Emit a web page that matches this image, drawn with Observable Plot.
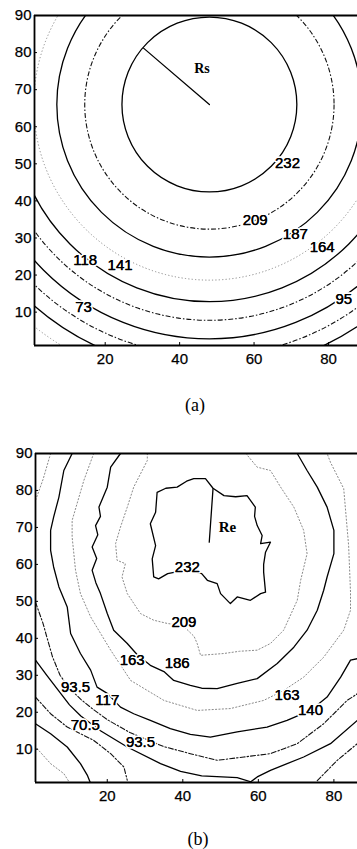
<!DOCTYPE html>
<html><head><meta charset="utf-8">
<script src="https://cdn.jsdelivr.net/npm/d3@7"></script>
<script src="https://cdn.jsdelivr.net/npm/@observablehq/plot@0.6"></script>
<style>
html,body{margin:0;padding:0;background:#fff;overflow:hidden}
#root{position:relative;width:357px;height:849px;background:#fff}
.panel{position:absolute;left:0}
.cap{position:absolute;font-family:"Liberation Serif","Times New Roman",serif;font-size:18px;color:#000;transform:translate(-50%,-50%);white-space:nowrap}
g[aria-label="x-axis"] text,g[aria-label="y-axis"] text,g[aria-label="x-axis tick label"] text,g[aria-label="y-axis tick label"] text{font-size:15px;font-family:"Liberation Sans",Arial,sans-serif;fill:#000;stroke:#000;stroke-width:0.25px}
</style></head><body><div id="root"></div>
<script>
// ---------- shared axis data ----------
const xTicks = [20, 40, 60, 80];
const yTicks = [10, 20, 30, 40, 50, 60, 70, 80, 90];

// ---------- panel (a): concentric contour circles ----------
const aCenterX = 48, aCenterY = 66;
const aLevels = [232, 209, 187, 164, 141, 118, 95, 73, 50, 27];
const aRadii  = [23.5, 33.5, 41, 47.2, 53, 58, 63, 67.5, 71.7, 76];
const aLabelText = ["232", "209", "187", "164", "118", "141", "73", "95"];
const aLabelX    = [69.0, 60.3, 71.1, 78.3, 14.6, 24.0, 14.2, 84.1];
const aLabelY    = [50.3, 34.8, 31.0, 27.6, 24.0, 22.7, 11.2, 13.4];
const rsLineX = [48, 30.3];
const rsLineY = [66, 81.2];
const rsLabel = {text: "Rs", x: 46.0, y: 75.6};

// ---------- panel (b): measured contour polylines ----------
const b232 = [[33.2,79.5],[35.5,80.6],[38.5,80.9],[41,82.5],[42.9,83.2],[46.0,83.2],[48.0,80.6],[50.9,78.6],[54,78.3],[57.0,78.6],[59.2,75.5],[59.0,73],[59.7,70.5],[61.0,67.8],[60.6,65.6],[63.2,66.0],[61.9,63.3],[61.4,60],[61.4,57.9],[61.9,52.5],[60.6,52.1],[57.9,50.3],[54.4,51.2],[52.6,49.4],[50.0,52.1],[49.1,54.8],[46.5,55.7],[45,57.5],[41,58.5],[36,57.5],[33.6,56.1],[32.3,56.6],[31.9,61.5],[32.8,65.1],[31.4,71.0],[32.8,74.1],[33.2,79.5]];
const b209 = [[30.6,90],[30.6,88.1],[28.8,84.5],[27.0,80.9],[25.3,75.5],[23.5,70.1],[22.2,65.6],[22.6,61.1],[24.8,60.2],[23.9,56.6],[25.3,52.1],[28.8,46.7],[32.3,44.9],[36,44],[40,43.5],[43,40.5],[43.8,38.6],[44.7,35.4],[50.9,35.9],[55,36.5],[59.7,36.8],[63.2,38.6],[66.7,42.2],[70.3,50.3],[71.2,55.7],[72.9,62.9],[72.0,69.2],[69.4,75.5],[65.9,80.9],[63.2,85.4],[59.7,86.3],[57.1,89.5],[56.8,90]];
const b186 = [[23.5,90],[20.9,86.3],[20.0,80.9],[17.8,75.5],[18.2,73],[16.9,70.5],[17.5,68],[16.0,64.7],[17.2,61.6],[16.0,58.4],[17,55],[18.2,52.1],[20.0,46.7],[21.7,42.2],[25.3,38.6],[28,35.5],[31.4,32.7],[35,31],[37.6,28.6],[42.0,27.3],[45,26.5],[49.1,26.4],[54.4,27.8],[59.7,29.1],[65.0,33.2],[69.4,37.6],[72.9,42.2],[75.6,47.6],[77.3,53.0],[78.2,56.6],[80.0,62.9],[80.0,69.2],[78.2,75.5],[75.6,80.9],[72.9,85.4],[70.3,90]];
const b163 = [[16.4,90],[13.8,82.7],[10.7,71.9],[10.7,67.4],[11.6,58.4],[12.9,52.1],[15.6,45.8],[20.9,36.8],[26.2,28.6],[35.0,23.2],[43.8,20.5],[52.6,21.0],[61.4,23.2],[66.7,25.9],[72.0,29.5],[77.3,34.9],[82.6,42.2],[84.4,47.6],[84.4,52.5],[83.9,65.1],[82.6,80.5],[79.1,87.6],[78.2,90]];
const b140 = [[10.7,90],[8.5,85.4],[7.2,78.2],[5.8,72.8],[5.0,69.2],[5.0,63.8],[5.8,59.3],[7.2,53.9],[9.4,48.5],[10.3,41.3],[12.9,35.9],[15.6,31.4],[17.3,26.8],[20.0,25.1],[23.5,21.4],[27.0,19.6],[31.4,17.8],[36.7,15.6],[42,14],[47.3,13.3],[54.4,14.7],[62.3,16.0],[67.6,17.8],[73.8,20.5],[78.2,24.1],[81.8,29.5],[84.4,34.1],[86.2,34.5]];
const b117top = [[5,90],[3,83],[1,77.3]];
const b117 = [[1,49.8],[3,44],[4.1,40],[5.5,35],[7.5,30],[10,26.5],[13,23.5],[16,21],[20,18],[26,14.5],[35,10.7],[42,8.8],[49.1,7.0],[56.2,7.9],[63.2,8.8],[70.3,11.5],[77.3,16.9],[83.5,23.2],[86.2,25.0]];
const b94 = [[1,34.1],[4,30],[7,26],[10,22],[13,19],[18.2,15.0],[25.3,10.6],[34.1,6.1],[39.4,4.0],[45,2.8],[54.4,2.3],[58,1.2],[59.7,2.5],[63.2,4.3],[72,7.9],[79.1,11.5],[86.2,17.8]];
const b70 = [[1,24.1],[5,19.6],[9.4,16.0],[16.4,12.4],[20.9,8.8],[24.4,5.2],[25.3,1.6]];
const b70r = [[75.6,1.5],[80.9,7.0],[86.2,11.5]];
const b47 = [[1,16.9],[5,14.2],[9.4,10.6],[12.9,6.1],[14.7,3.0],[15.5,1]];
const b24 = [[1.4,10.2],[5,6.1],[8.5,3.4],[10,1]];
const bLabelText = ["232", "209", "163", "186", "93.5", "117", "70.5", "93.5", "163", "140"];
const bLabelX    = [41.2, 40.3, 26.6, 38.5, 11.6, 20.0, 14.2, 28.8, 67.6, 73.8];
const bLabelY    = [59.3, 44.4, 34.2, 33.2, 26.8, 23.2, 16.5, 12.0, 24.6, 20.5];
const reLineX = [47, 48];
const reLineY = [66, 80.5];
const reLabel = {text: "Re", x: 51.8, y: 70.1};

// ---------- styles ----------
const SOLID = {stroke: "#000", strokeWidth: 1.3};
const DASH = {stroke: "#111", strokeWidth: 1.1, strokeDasharray: "5,2,1.5,2"};
const DOT = {stroke: "#8a8a8a", strokeWidth: 1, strokeDasharray: "1.2,2.2"};
const W = 357;
const yDomain = [1, 90];

function axesOpts(xDomain) {
  return {
    x: {domain: xDomain, ticks: xTicks, tickSize: 0, tickPadding: 8, label: null, tickFormat: d => String(d)},
    y: {domain: yDomain, ticks: yTicks, tickSize: 0, tickPadding: 3, label: null, tickFormat: d => String(d)}
  };
}
function frameMarks(xDomain) {
  return [
    Plot.ruleY([yDomain[1], yDomain[0]], {x1: xDomain[0], x2: xDomain[1], stroke: "#000", strokeWidth: 1.8}),
    Plot.ruleX([xDomain[0]], {y1: yDomain[0], y2: yDomain[1], stroke: "#000", strokeWidth: 1.8}),
    Plot.ruleX(xTicks, {x: d => d, y1: yDomain[0], y2: yDomain[0] + 0.8, stroke: "#000", strokeWidth: 1}),
    Plot.ruleY(yTicks, {y: d => d, x1: xDomain[0], x2: xDomain[0] + 0.8, stroke: "#000", strokeWidth: 1})
  ];
}
function labelMarks(texts, xs, ys) {
  const rows = texts.map((t, i) => ({t, x: xs[i], y: ys[i]}));
  return [
    Plot.text(rows, {x: "x", y: "y", text: "t", fill: "#000", stroke: "#fff", strokeWidth: 3.5,
      paintOrder: "stroke", fontSize: 15, fontFamily: "Liberation Sans, Arial, sans-serif"}),
    Plot.text(rows, {x: "x", y: "y", text: "t", fill: "#000", stroke: "#000", strokeWidth: 0.25,
      fontSize: 15, fontFamily: "Liberation Sans, Arial, sans-serif"})
  ];
}

// ---------- panel (a) ----------
const aXDomain = [1, 87.8];
const aMarginLeft = 34;
const pxPerUnitA = (W - aMarginLeft) / (aXDomain[1] - aXDomain[0]);
const aCircles = aLevels.map((lv, i) => ({lv, i, x: aCenterX, y: aCenterY, r: aRadii[i]}));
function aStyle(i) { return i % 2 === 0 ? SOLID : (i === 3 || i === 9 ? DOT : DASH); }
const aGroups = [SOLID, DASH, DOT].map(s => Plot.dot(aCircles.filter(d => aStyle(d.i) === s),
  {x: "x", y: "y", r: "r", fill: "none", ...s, clip: true}));
const rsRows = rsLineX.map((x, i) => ({x, y: rsLineY[i]}));

const plotA = Plot.plot({
  width: W, height: 370, marginLeft: aMarginLeft, marginRight: 0, marginTop: 15, marginBottom: 25,
  ...axesOpts(aXDomain),
  r: {type: "linear", domain: [0, 1], range: [0, pxPerUnitA]},
  style: {fontFamily: "Liberation Sans, Arial, sans-serif", fontSize: "15px", background: "#fff", color: "#000", overflow: "visible"},
  marks: [
    ...aGroups,
    Plot.line(rsRows, {x: "x", y: "y", stroke: "#000", strokeWidth: 1.3}),
    ...labelMarks(aLabelText, aLabelX, aLabelY),
    Plot.text([rsLabel], {x: "x", y: "y", text: "text", fontFamily: "Liberation Serif, Times New Roman, serif", fontSize: 14, fontWeight: "bold", fill: "#000"}),
    ...frameMarks(aXDomain)
  ]
});

// ---------- panel (b) ----------
const bXDomain = [1, 86.25];
const bMarginLeft = 35;
const bSets = [
  ["232", b232, SOLID], ["209", b209, DOT], ["186", b186, SOLID], ["163", b163, DOT],
  ["140", b140, SOLID], ["117top", b117top, DOT], ["117", b117, DASH], ["94", b94, SOLID],
  ["70", b70, DASH], ["70r", b70r, DASH], ["47", b47, SOLID], ["24", b24, DOT]
];
const bMarks = bSets.map(([name, pts, s]) => Plot.line(pts.map(([x, y]) => ({name, x, y})),
  {x: "x", y: "y", z: "name", ...s, curve: "linear", clip: true}));
const reRows = reLineX.map((x, i) => ({x, y: reLineY[i]}));

const plotB = Plot.plot({
  width: W, height: 369, marginLeft: bMarginLeft, marginRight: 0, marginTop: 15, marginBottom: 25,
  ...axesOpts(bXDomain),
  style: {fontFamily: "Liberation Sans, Arial, sans-serif", fontSize: "15px", background: "#fff", color: "#000", overflow: "visible"},
  marks: [
    ...bMarks,
    Plot.line(reRows, {x: "x", y: "y", stroke: "#000", strokeWidth: 1.3}),
    ...labelMarks(bLabelText, bLabelX, bLabelY),
    Plot.text([reLabel], {x: "x", y: "y", text: "text", fontFamily: "Liberation Serif, Times New Roman, serif", fontSize: 15, fontWeight: "bold", fill: "#000"}),
    ...frameMarks(bXDomain)
  ]
});

const root = document.getElementById("root");
function place(el, top) { el.classList.add("panel"); el.style.top = top + "px"; root.appendChild(el); }
place(plotA, 0);
place(plotB, 438);
function caption(text, x, y) {
  const d = document.createElement("div");
  d.className = "cap"; d.textContent = text; d.style.left = x + "px"; d.style.top = y + "px";
  root.appendChild(d);
}
caption("(a)", 195, 405);
caption("(b)", 198, 839);
</script>
</body></html>
